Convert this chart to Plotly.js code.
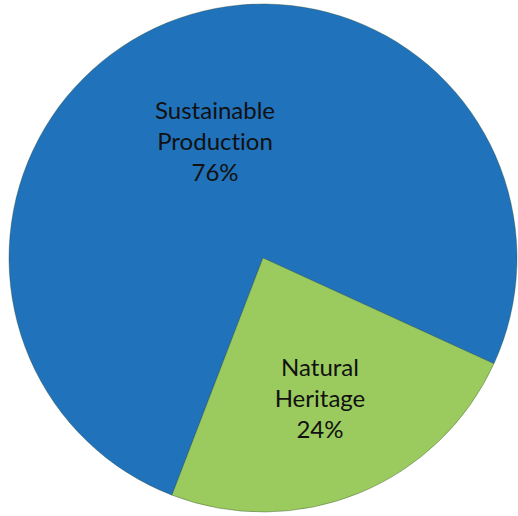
<!DOCTYPE html>
<html>
<head>
<meta charset="utf-8">
<script src="https://cdn.plot.ly/plotly-3.0.1.min.js"></script>
<style>html,body{margin:0;padding:0;background:#fff;}#chart{width:518px;height:516px;}
text{font-variant-ligatures:none;font-feature-settings:"liga" 0;}</style>
</head>
<body>
<div id="chart"></div>
<script>
const categories = ["Sustainable<br>Production", "Natural<br>Heritage"];
const shares = [76, 24];
const sliceColors = ["#2072BB", "#9BCB5E"];

const trace = {
  type: "pie",
  labels: categories,
  values: shares,
  sort: false,
  direction: "clockwise",
  rotation: 201,
  marker: { colors: sliceColors, line: { color: "rgba(40,70,40,0.35)", width: 1 } },
  textinfo: "label+percent",
  texttemplate: "%{label}<br>%{percent:.0%}",
  textposition: "inside",
  insidetextorientation: "horizontal",
  textfont: { family: "Lato, 'Open Sans', sans-serif", size: 24, color: "#111111" },
  hoverinfo: "none",
  showlegend: false
};

const layout = {
  width: 518,
  height: 516,
  margin: { l: 8, r: 0, t: 4, b: 4 },
  paper_bgcolor: "#ffffff",
  showlegend: false
};

Plotly.newPlot("chart", [trace], layout, { displayModeBar: false, staticPlot: true });
</script>
</body>
</html>
